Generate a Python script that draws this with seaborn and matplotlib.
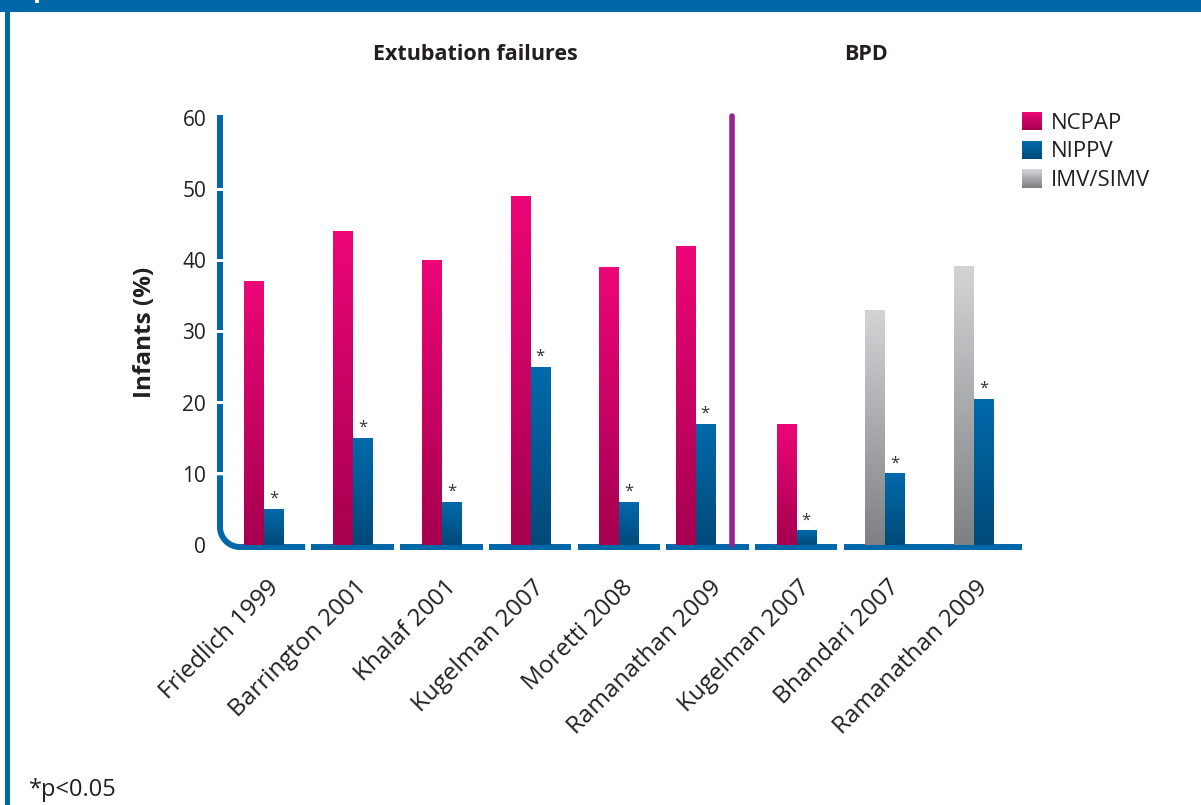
import numpy as np
import pandas as pd
import seaborn as sns
import matplotlib.pyplot as plt
from matplotlib.patches import Rectangle
from matplotlib.legend_handler import HandlerBase
from matplotlib.colors import to_rgb
import matplotlib.transforms as mtransforms

# Data
studies = ['Friedlich 1999', 'Barrington 2001', 'Khalaf 2001', 'Kugelman 2007',
           'Moretti 2008', 'Ramanathan 2009', 'Kugelman 2007', 'Bhandari 2007',
           'Ramanathan 2009']
control_type = ['NCPAP'] * 7 + ['IMV/SIMV'] * 2
control_vals = [37, 44, 40, 49, 39, 42, 17, 33, 39.2]
nippv_vals = [5, 15, 6, 25, 6, 17, 2, 10, 20.5]
significant = [True] * 9
panels = ['Extubation failures', 'BPD']

# Layout (x slot of each study, last extubation group nudged left of the divider)
x_pos = [0, 1, 2, 3, 4, 4.86, 6, 7, 8]
divider_x = 5.276
bar_w = 0.225

grad = {
    'NCPAP': ('#EC0677', '#A6004F'),
    'NIPPV': ('#006AAB', '#004A79'),
    'IMV/SIMV': ('#D3D4D6', '#7F8083'),
}
axis_blue = '#0067A9'
txt = '#231F20'

df = pd.DataFrame({
    'x': x_pos + x_pos,
    'value': control_vals + nippv_vals,
    'slot': ['control'] * len(studies) + ['nippv'] * len(studies),
    'series': control_type + ['NIPPV'] * len(studies),
})

sns.set_theme(style='white')
plt.rcParams['font.family'] = ['Open Sans', 'DejaVu Sans']

W, H = 1201, 805
fig = plt.figure(figsize=(W / 100, H / 100), dpi=100)

# pixel mapping of the plotting area
x0px, sx = 264, 88.7
y0px, sy = 545, 7.117
xlim = (-0.62, 8.7)
ylim = (-1.0, 62)
left_px = x0px + xlim[0] * sx
right_px = x0px + xlim[1] * sx
bot_px = y0px - ylim[0] * sy
top_px = y0px - ylim[1] * sy
ax = fig.add_axes([left_px / W, (H - bot_px) / H, (right_px - left_px) / W, (bot_px - top_px) / H])

min_gap = np.min(np.diff(sorted(set(x_pos))))
sns.barplot(data=df, x='x', y='value', hue='slot', hue_order=['control', 'nippv'],
            native_scale=True, width=2 * bar_w / min_gap, dodge=True, gap=0,
            legend=False, ax=ax, errorbar=None)


def vgrad(top, bottom, n=256):
    t = np.linspace(0, 1, n)[:, None]
    c = (1 - t) * np.array(to_rgb(top)) + t * np.array(to_rgb(bottom))
    return c[:, None, :]


# replace flat bars by vertical gradients
order = np.argsort(x_pos, kind='stable')
series_by_slot = [[control_type[i] for i in order], ['NIPPV'] * len(order)]
for cont, names in zip(ax.containers, series_by_slot):
    for bar, name in zip(cont.patches, names):
        bx, bwid, bh = bar.get_x(), bar.get_width(), bar.get_height()
        bar.set_facecolor('none')
        bar.set_edgecolor('none')
        pad = 0.005
        ax.imshow(vgrad(*grad[name]), extent=(bx + pad, bx + bwid - pad, 0, bh),
                  origin='upper', aspect='auto', interpolation='bilinear', zorder=3)

# significance stars above NIPPV bars
for i, (xv, v) in enumerate(zip(x_pos, nippv_vals)):
    if significant[i]:
        ax.text(xv + bar_w / 2, v + 0.35, '*', ha='center', va='bottom',
                fontsize=12, color='#333333', zorder=4)

# custom axis lines
lw = 4.3
xl = -0.496
yb = -0.28
rx, ry = 20 / sx, 20 / sy
t = np.linspace(0, np.pi / 2, 30)
cx, cy = xl + rx, yb + ry
corner_x = np.concatenate([[xl], cx - rx * np.cos(t), [0.5 - 0.035]])
corner_y = np.concatenate([[9.79], cy - ry * np.sin(t), [yb]])
ax.plot(corner_x, corner_y, color=axis_blue, lw=lw, solid_capstyle='butt',
        solid_joinstyle='round', zorder=2)
gy = 0.21
for k in range(1, 6):
    top = 60.4 if k == 5 else k * 10 + 10 - gy
    ax.plot([xl, xl], [k * 10 + gy, top], color=axis_blue, lw=lw,
            solid_capstyle='butt', zorder=2)
for k in range(1, 8):
    end = 8.545 if k == 7 else k + 0.5 - 0.035
    ax.plot([k - 0.5 + 0.035, end], [yb, yb], color=axis_blue, lw=lw,
            solid_capstyle='butt', zorder=2)

# divider between panels
ax.plot([divider_x, divider_x], [0, 60.3], color='#93278F', lw=4.0,
        solid_capstyle='round', zorder=2)

ax.set_xlim(*xlim)
ax.set_ylim(*ylim)
sns.despine(ax=ax, left=True, bottom=True)
ax.set_xlabel('')
ax.set_ylabel('')
ax.set_yticks(range(0, 61, 10))
ax.tick_params(axis='y', length=0, pad=2, labelsize=15, labelcolor=txt)
ax.set_xticks(range(len(studies)))
ax.set_xticklabels(studies, rotation=45, ha='right', va='center',
                   rotation_mode='anchor', fontsize=17.5, color=txt)
ax.tick_params(axis='x', length=0, pad=23)
shift = mtransforms.ScaledTranslation(11 / 100, 0, fig.dpi_scale_trans)
for lab in ax.get_xticklabels():
    lab.set_transform(lab.get_transform() + shift)


# legend with gradient swatches
class GradHandler(HandlerBase):
    def create_artists(self, legend, orig_handle, xdescent, ydescent, width, height, fontsize, trans):
        top, bottom = orig_handle.get_label_colors()
        n = 20
        arts = []
        for i in range(n):
            f = i / (n - 1)
            c = (1 - f) * np.array(to_rgb(top)) + f * np.array(to_rgb(bottom))
            arts.append(Rectangle((-xdescent, -ydescent + height * (1 - (i + 1) / n)),
                                  width, height / n * 1.05, facecolor=c, edgecolor='none',
                                  transform=trans))
        return arts


class Swatch(Rectangle):
    def __init__(self, name):
        super().__init__((0, 0), 1, 1)
        self._cols = grad[name]

    def get_label_colors(self):
        return self._cols


names = ['NCPAP', 'NIPPV', 'IMV/SIMV']
handles = [Swatch(n) for n in names]
fig.legend(handles, names, handler_map={Swatch: GradHandler()},
           loc='upper left', bbox_to_anchor=(1022 / W, 1 - 112 / H),
           frameon=False, fontsize=16, handlelength=0.9, handleheight=0.9,
           handletextpad=0.4, labelspacing=0.3, borderpad=0, borderaxespad=0,
           labelcolor=txt)

# titles and notes
fig.text(475 / W, 1 - 55 / H, panels[0], ha='center', va='center',
         fontsize=15.5, fontweight='bold', color=txt)
fig.text(866 / W, 1 - 55 / H, panels[1], ha='center', va='center',
         fontsize=15.5, fontweight='bold', color=txt)
fig.text(145 / W, 1 - 332 / H, 'Infants (%)', rotation=90, ha='center', va='center',
         fontsize=17.5, fontweight='bold', color=txt)
fig.text(29 / W, 1 - 796 / H, '*p<0.05', ha='left', va='baseline',
         fontsize=17, color=txt)

# frame: top band and left rule
fig.patches.append(Rectangle((0, 1 - 12.5 / H), 1, 12.5 / H, transform=fig.transFigure,
                             facecolor=axis_blue, edgecolor='none', zorder=0))
fig.patches.append(Rectangle((5 / W, 0), 5 / W, 1, transform=fig.transFigure,
                             facecolor=axis_blue, edgecolor='none', zorder=0))
fig.patches.append(Rectangle((35 / W, 1 - 3 / H), 4 / W, 3 / H, transform=fig.transFigure,
                             facecolor='white', edgecolor='none', zorder=1))

fig.savefig('out.png', dpi=100)
